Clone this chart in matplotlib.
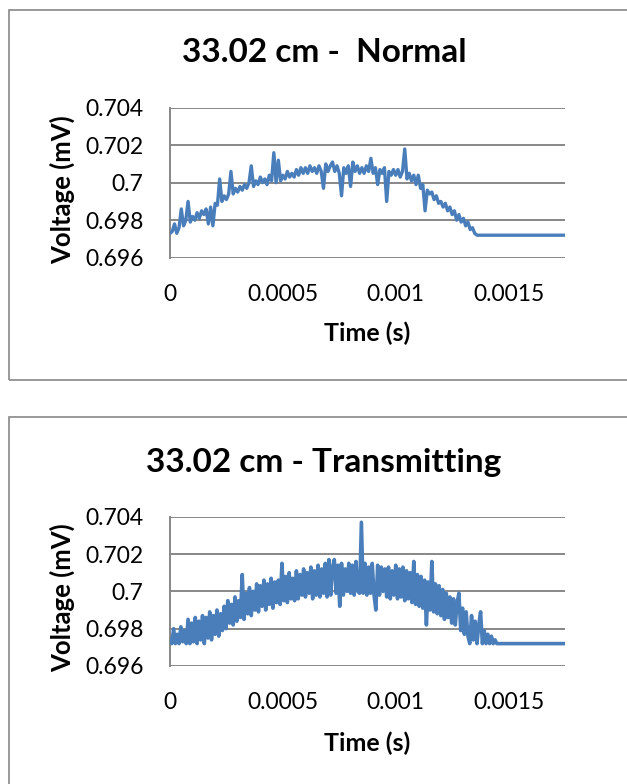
import numpy as np
import matplotlib.pyplot as plt
from matplotlib.patches import Rectangle

# scope traces, sampled at a fixed interval, then flat until the end of the record
step_normal = 10e-6      # s between samples, top trace
step_transmit = 8e-6     # s between samples, bottom trace
t_end = 0.00175          # last time of the record (s)
baseline = 0.6972        # resting level (mV)

volt_normal = [
    0.6973, 0.6974, 0.6978, 0.6973, 0.6976, 0.6986, 0.6977, 0.6980, 0.6990, 0.6979,
    0.6982, 0.6980, 0.6984, 0.6981, 0.6985, 0.6983, 0.6986, 0.6978, 0.6987, 0.6977,
    0.6989, 0.6988, 0.7002, 0.6990, 0.6993, 0.6991, 0.6994, 0.7006, 0.6994, 0.6997,
    0.6995, 0.6998, 0.6996, 0.6999, 0.6997, 0.7000, 0.7009, 0.6998, 0.7001, 0.6999,
    0.7003, 0.7000, 0.7002, 0.6999, 0.7004, 0.7001, 0.7016, 0.7000, 0.7012, 0.7001,
    0.7004, 0.7002, 0.7006, 0.7003, 0.7005, 0.7003, 0.7007, 0.7004, 0.7008, 0.7005,
    0.7008, 0.7005, 0.7009, 0.7006, 0.7008, 0.7005, 0.7009, 0.7006, 0.6997, 0.7010,
    0.7006, 0.7009, 0.7011, 0.7006, 0.7009, 0.7005, 0.6993, 0.7008, 0.7005, 0.7009,
    0.6998, 0.7011, 0.7006, 0.7009, 0.7005, 0.7008, 0.7005, 0.7009, 0.7006, 0.7013,
    0.7005, 0.7008, 0.6999, 0.7007, 0.7005, 0.7008, 0.6990, 0.7006, 0.7004, 0.7007,
    0.7004, 0.7007, 0.7003, 0.7006, 0.7018, 0.7002, 0.7005, 0.7001, 0.7004, 0.6999,
    0.7004, 0.6997, 0.6999, 0.6985, 0.6996, 0.6994, 0.6995, 0.6991, 0.6993, 0.6989,
    0.6990, 0.6987, 0.6989, 0.6985, 0.6987, 0.6983, 0.6985, 0.6980, 0.6983, 0.6979,
    0.6981, 0.6977, 0.6979, 0.6975, 0.6976, 0.6973, 0.6972,
]

volt_transmit = [
    0.6974, 0.6972, 0.6980, 0.6972, 0.6977, 0.6972, 0.6981, 0.6973, 0.6979, 0.6972,
    0.6985, 0.6972, 0.6983, 0.6973, 0.6986, 0.6972, 0.6984, 0.6974, 0.6987, 0.6972,
    0.6986, 0.6975, 0.6989, 0.6974, 0.6987, 0.6977, 0.6990, 0.6976, 0.6988, 0.6979,
    0.6992, 0.6980, 0.6995, 0.6983, 0.6993, 0.6982, 0.6997, 0.6984, 0.6995, 0.6986,
    0.7009, 0.6985, 0.6999, 0.6988, 0.7002, 0.6987, 0.7000, 0.6990, 0.7004, 0.6989,
    0.7003, 0.6992, 0.7006, 0.6990, 0.7004, 0.6993, 0.7007, 0.6991, 0.7005, 0.6994,
    0.7006, 0.6993, 0.7015, 0.6995, 0.7008, 0.6994, 0.7010, 0.6996, 0.7007, 0.6995,
    0.7011, 0.6996, 0.7009, 0.6998, 0.7012, 0.6997, 0.7010, 0.6999, 0.7013, 0.6996,
    0.7011, 0.6998, 0.7014, 0.6997, 0.7012, 0.6999, 0.7015, 0.6997, 0.7017, 0.6998,
    0.7013, 0.7017, 0.6999, 0.7014, 0.6992, 0.7015, 0.6998, 0.7012, 0.7000, 0.7015,
    0.6999, 0.7014, 0.6998, 0.7016, 0.7000, 0.6999, 0.7037, 0.6999, 0.7015, 0.6998,
    0.7013, 0.6999, 0.7015, 0.6998, 0.6990, 0.7014, 0.6998, 0.7013, 0.7000, 0.7012,
    0.6997, 0.7013, 0.6996, 0.7011, 0.6998, 0.7014, 0.6996, 0.7012, 0.6997, 0.7013,
    0.6995, 0.7011, 0.6996, 0.7010, 0.6994, 0.7016, 0.6993, 0.7009, 0.6992, 0.7008,
    0.6991, 0.7006, 0.6982, 0.7005, 0.6990, 0.7016, 0.6989, 0.7004, 0.6988, 0.7003,
    0.6987, 0.7001, 0.6985, 0.6999, 0.6986, 0.6997, 0.6983, 0.6996, 0.6982, 0.6994,
    0.6999, 0.6979, 0.6991, 0.6977, 0.6989, 0.6976, 0.6972, 0.6987, 0.6974, 0.6984,
    0.6972, 0.6982, 0.6989, 0.6972, 0.6979, 0.6972, 0.6977, 0.6972, 0.6976, 0.6972,
    0.6974, 0.6972,
]

titles = ['33.02 cm -  Normal', '33.02 cm - Transmitting']
x_ticks = [0, 0.0005, 0.001, 0.0015]
x_tick_labels = ['0', '0.0005', '0.001', '0.0015']
y_ticks = [0.696, 0.698, 0.700, 0.702, 0.704]
y_tick_labels = ['0.696', '0.698', '0.7', '0.702', '0.704']

W, H = 627, 784
line_color = '#4A7EBB'
grid_color = '#878787'
plt.rcParams['font.family'] = ['Lato', 'DejaVu Sans']

fig = plt.figure(figsize=(W / 100, H / 100), dpi=100)


def fx(px):
    return px / W


def fy(py):
    return 1 - py / H


def make_trace(volts, step):
    t = list(np.arange(len(volts)) * step) + [t_end]
    v = list(volts) + [baseline]
    return t, v


# chart frames (px): left, top, bottom
frames = [(9, 10, 380), (9, 417, 800)]
# plot areas (px): top gridline y, bottom gridline y
plot_rows = [(107.7, 257.7), (516.7, 666.0)]
traces = [make_trace(volt_normal, step_normal), make_trace(volt_transmit, step_transmit)]
widths = [2.4, 2.6]

for k in range(2):
    left, top, bottom = frames[k]
    fig.patches.append(Rectangle((fx(left), fy(bottom)), fx(W + 20 - left), (bottom - top) / H,
                                 transform=fig.transFigure, fill=False,
                                 edgecolor=grid_color, linewidth=1.2))

    y0, y1 = plot_rows[k]
    ax = fig.add_axes([fx(170), fy(y1), fx(395), (y1 - y0) / H])
    t, v = traces[k]
    ax.plot(t, v, color=line_color, linewidth=widths[k], solid_joinstyle='round', zorder=3)

    ax.set_xlim(0, t_end)
    ax.set_ylim(0.696, 0.704)
    ax.set_xticks(x_ticks)
    ax.set_xticklabels(x_tick_labels)
    ax.set_yticks(y_ticks)
    ax.set_yticklabels(y_tick_labels)
    ax.tick_params(length=0, labelsize=16.5, pad=19)
    for s in ['top', 'right', 'bottom']:
        ax.spines[s].set_visible(False)
    ax.spines['left'].set_color(grid_color)
    ax.spines['left'].set_linewidth(1.4)
    ax.grid(axis='y', color=grid_color, linewidth=1.4)
    ax.set_axisbelow(True)

    title_y = [52, 463][k]
    xlabel_y = [333, 743][k]
    fig.text(fx(324), fy(title_y), titles[k], fontsize=24, fontweight='bold',
             ha='center', va='center')
    fig.text(fx(367), fy(xlabel_y), 'Time (s)', fontsize=18, fontweight='bold',
             ha='center', va='center')
    fig.text(fx(62), fy((y0 + y1) / 2 + 6.5), 'Voltage (mV)', fontsize=18.5, fontweight='bold',
             ha='center', va='center', rotation=90)

fig.savefig('out.png', dpi=100)
